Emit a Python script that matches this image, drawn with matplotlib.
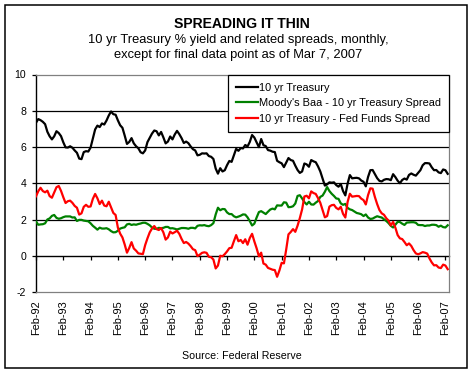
import matplotlib
matplotlib.use("Agg")
import matplotlib.pyplot as plt
from matplotlib.patches import Rectangle

plt.rcParams['font.family'] = ['Liberation Sans', 'DejaVu Sans']
plt.rcParams['axes.unicode_minus'] = False

# ---- data: monthly, Feb-1992 .. Feb-2007, plus final point as of Mar 7, 2007 ----
treasury_10yr = [
    7.34, 7.54, 7.48, 7.39, 7.26, 6.84, 6.59, 6.42, 6.59, 6.87, 6.77,            # 1992 Feb-Dec
    6.60, 6.26, 5.98, 5.97, 6.04, 5.96, 5.81, 5.68, 5.36, 5.33, 5.72, 5.77,      # 1993
    5.75, 5.97, 6.48, 6.97, 7.18, 7.10, 7.30, 7.24, 7.46, 7.74, 7.96, 7.81,      # 1994
    7.78, 7.47, 7.20, 7.06, 6.63, 6.17, 6.28, 6.49, 6.20, 6.04, 5.93, 5.71,      # 1995
    5.65, 5.81, 6.27, 6.51, 6.74, 6.91, 6.87, 6.64, 6.83, 6.53, 6.20, 6.30,      # 1996
    6.58, 6.42, 6.69, 6.89, 6.71, 6.49, 6.22, 6.30, 6.21, 6.03, 5.88, 5.81,      # 1997
    5.54, 5.57, 5.65, 5.64, 5.65, 5.50, 5.46, 5.34, 4.81, 4.53, 4.83, 4.65,      # 1998
    4.72, 5.00, 5.23, 5.18, 5.54, 5.90, 5.79, 5.94, 5.92, 6.11, 6.03, 6.28,      # 1999
    6.66, 6.52, 6.26, 5.99, 6.44, 6.10, 6.05, 5.83, 5.80, 5.74, 5.72, 5.24,      # 2000
    5.16, 5.10, 4.89, 5.14, 5.39, 5.28, 5.24, 4.97, 4.73, 4.57, 4.65, 5.09,      # 2001
    5.04, 4.91, 5.28, 5.21, 5.16, 4.93, 4.65, 4.26, 3.87, 3.94, 4.05, 4.03,      # 2002
    4.05, 3.90, 3.81, 3.96, 3.57, 3.33, 3.98, 4.45, 4.27, 4.29, 4.30, 4.27,      # 2003
    4.15, 4.08, 3.83, 4.35, 4.72, 4.73, 4.50, 4.28, 4.13, 4.10, 4.19, 4.23,      # 2004
    4.22, 4.17, 4.50, 4.34, 4.14, 4.00, 4.18, 4.26, 4.20, 4.46, 4.54, 4.47,      # 2005
    4.42, 4.57, 4.72, 4.99, 5.11, 5.11, 5.09, 4.88, 4.72, 4.73, 4.60, 4.56,      # 2006
    4.76, 4.72, 4.52,                                                            # 2007 Jan, Feb, Mar 7
]

baa_spread = [
    1.89, 1.71, 1.73, 1.74, 1.79, 2.00, 2.06, 2.20, 2.25, 2.09, 2.04,
    2.07, 2.13, 2.17, 2.17, 2.17, 2.11, 2.12, 1.92, 1.98, 1.98, 1.94, 1.92,
    1.90, 1.79, 1.65, 1.55, 1.44, 1.55, 1.50, 1.50, 1.52, 1.46, 1.36, 1.29,
    1.30, 1.38, 1.50, 1.54, 1.57, 1.73, 1.76, 1.70, 1.73, 1.71, 1.75, 1.78,
    1.82, 1.82, 1.76, 1.68, 1.56, 1.49, 1.48, 1.54, 1.52, 1.54, 1.59, 1.59,
    1.51, 1.52, 1.49, 1.45, 1.49, 1.53, 1.53, 1.52, 1.49, 1.54, 1.54, 1.51,
    1.65, 1.68, 1.67, 1.69, 1.65, 1.63, 1.69, 1.80, 2.28, 2.65, 2.51, 2.58,
    2.57, 2.39, 2.30, 2.30, 2.18, 2.12, 2.16, 2.21, 2.28, 2.27, 2.12, 1.91,
    1.67, 1.77, 2.11, 2.41, 2.46, 2.38, 2.30, 2.43, 2.55, 2.60, 2.56, 2.78,
    2.77, 2.77, 2.95, 2.93, 2.68, 2.69, 2.73, 2.88, 3.30, 3.34, 3.16, 2.96,
    2.83, 2.98, 2.83, 2.82, 2.93, 3.02, 3.25, 3.32, 3.53, 3.79, 3.57, 3.42,
    3.30, 3.16, 3.14, 2.89, 2.81, 2.86, 2.64, 2.56, 2.52, 2.44, 2.36, 2.33,
    2.29, 2.19, 2.28, 2.11, 2.03, 2.05, 2.12, 2.18, 2.14, 2.11, 2.01, 1.92,
    1.80, 1.65, 1.56, 1.71, 1.87, 1.86, 1.77, 1.70, 1.83, 1.84, 1.85, 1.85,
    1.82, 1.70, 1.69, 1.69, 1.64, 1.67, 1.67, 1.71, 1.71, 1.69, 1.60, 1.66,
    1.58, 1.56, 1.68,
]

fedfunds_spread = [
    3.28, 3.56, 3.75, 3.57, 3.50, 3.59, 3.29, 3.20, 3.49, 3.78, 3.85,
    3.58, 3.23, 2.91, 3.01, 3.04, 2.92, 2.75, 2.65, 2.27, 2.34, 2.70, 2.81,
    2.70, 2.72, 3.14, 3.41, 3.17, 2.85, 3.04, 2.77, 2.73, 2.98, 2.67, 2.36,
    2.25, 1.55, 1.22, 1.01, 0.62, 0.17, 0.43, 0.75, 0.40, 0.28, 0.13, 0.11,
    0.09, 0.59, 0.96, 1.29, 1.50, 1.64, 1.47, 1.42, 1.53, 1.29, 0.89, 1.01,
    1.33, 1.23, 1.30, 1.38, 1.21, 0.93, 0.70, 0.76, 0.67, 0.53, 0.36, 0.31,
    -0.02, 0.06, 0.16, 0.19, 0.16, -0.06, -0.08, -0.21, -0.70, -0.54, 0.00, -0.03,
    0.09, 0.24, 0.42, 0.44, 0.80, 1.14, 0.80, 0.87, 0.70, 0.91, 0.61, 0.98,
    1.21, 0.79, 0.41, -0.03, 0.17, -0.43, -0.49, -0.67, -0.72, -0.77, -0.79, -1.16,
    -0.82, -0.39, -0.42, 0.34, 1.18, 1.31, 1.47, 1.32, 1.66, 2.08, 2.56, 3.27,
    3.31, 3.17, 3.55, 3.46, 3.41, 3.18, 2.92, 2.52, 2.12, 2.19, 2.71, 2.79,
    2.81, 2.64, 2.56, 2.70, 2.31, 2.11, 2.97, 3.42, 3.26, 3.28, 3.30, 3.29,
    3.15, 3.07, 2.83, 3.35, 3.72, 3.70, 3.24, 2.85, 2.52, 2.34, 2.26, 2.07,
    1.94, 1.67, 1.87, 1.55, 1.14, 0.96, 0.92, 0.76, 0.58, 0.68, 0.54, 0.31,
    0.13, 0.08, 0.13, 0.20, 0.17, 0.12, -0.15, -0.37, -0.53, -0.52, -0.65, -0.68,
    -0.49, -0.54, -0.74,
]

tick_labels = ['Feb-92', 'Feb-93', 'Feb-94', 'Feb-95', 'Feb-96', 'Feb-97', 'Feb-98',
               'Feb-99', 'Feb-00', 'Feb-01', 'Feb-02', 'Feb-03', 'Feb-04', 'Feb-05',
               'Feb-06', 'Feb-07']
y_ticks = [-2, 0, 2, 4, 6, 8, 10]

series_names = ['10 yr Treasury', "Moody's Baa - 10 yr Treasury Spread",
                '10 yr Treasury - Fed Funds Spread']
series_colors = ['#000000', '#008000', '#FF0000']

# ---- figure ----
W, H = 474, 372
fig = plt.figure(figsize=(W / 100, H / 100), dpi=100)
fig.patch.set_facecolor('white')

x = list(range(len(treasury_10yr)))
tick_pos = [12 * i for i in range(len(tick_labels))]

ax = fig.add_axes([36 / W, 1 - 292 / H, (449.5 - 36) / W, (292 - 74.5) / H])
ax.set_xlim(0, 181.8)
ax.set_ylim(-2, 10)

# gridlines
for v in [2, 4, 6, 8]:
    ax.axhline(v, color='black', lw=0.9, zorder=1)

for vals, name, col in zip([treasury_10yr, baa_spread, fedfunds_spread], series_names, series_colors):
    ax.plot(x, vals, color=col, lw=1.6, label=name, zorder=3, solid_joinstyle='round')

# spines: left is the value axis, others form the dotted plot-area border
ax.spines['left'].set_color('black')
ax.spines['left'].set_linewidth(1.0)
for s in ['top', 'right', 'bottom']:
    ax.spines[s].set_color('#808080')
    ax.spines[s].set_linestyle((0, (1, 1)))
    ax.spines[s].set_linewidth(0.9)

ax.set_yticks(y_ticks)
ax.set_yticklabels([str(v) for v in y_ticks])
ax.tick_params(axis='y', direction='out', length=3, width=0.9, color='black',
               labelsize=7.6, pad=4)

ax.set_xticks(tick_pos)
ax.set_xticklabels(tick_labels, rotation=90, fontsize=7.9)
ax.tick_params(axis='x', length=0, pad=6)

# category axis crossing at 0
loc0 = (0 - ax.get_ylim()[0]) / (ax.get_ylim()[1] - ax.get_ylim()[0])
sec = ax.secondary_xaxis(loc0)
sec.set_xticks(tick_pos)
sec.tick_params(axis='x', direction='out', length=3, width=0.9, color='black',
                labelbottom=False)
sec.spines['bottom'].set_color('black')
sec.spines['bottom'].set_linewidth(1.0)

leg = ax.legend(loc='upper right', bbox_to_anchor=(1.0, 1.0), borderaxespad=0,
                fancybox=False, framealpha=1, edgecolor='black', fontsize=7.95,
                handlelength=1.95, handletextpad=0.12, borderpad=0.75,
                labelspacing=0.5)
leg.get_frame().set_linewidth(0.9)
leg.set_zorder(5)

# titles and source
fig.text(242 / W, 1 - 28 / H, 'SPREADING IT THIN', ha='center', va='baseline',
         fontsize=10.1, fontweight='bold')
fig.text(238 / W, 1 - 43 / H, '10 yr Treasury % yield and related spreads, monthly,',
         ha='center', va='baseline', fontsize=9.3)
fig.text(238 / W, 1 - 58 / H, 'except for final data point as of Mar 7, 2007',
         ha='center', va='baseline', fontsize=9.3)
fig.text(242 / W, 1 - 359 / H, 'Source: Federal Reserve', ha='center', va='baseline',
         fontsize=7.7)

# outer frame
fig.patches.append(Rectangle((4.5 / W, 1 - 367.5 / H), (467 - 4.5) / W, (367.5 - 4.5) / H,
                             transform=fig.transFigure, fill=False, edgecolor='black',
                             lw=1.1))

fig.savefig('out.png', dpi=100, facecolor='white')
